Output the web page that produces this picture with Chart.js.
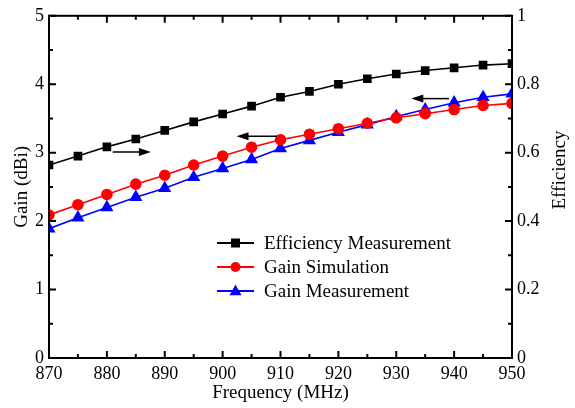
<!DOCTYPE html>
<html>
<head>
<meta charset="utf-8">
<script src="https://cdn.jsdelivr.net/npm/chart.js@4.4.0/dist/chart.umd.min.js"></script>
<style>
  html, body { margin: 0; padding: 0; background: #fff; }
  #wrap { width: 575px; height: 408px; }
</style>
</head>
<body>
<div id="wrap"><canvas id="grafico"></canvas></div>
<script>
const freqs = [870, 875, 880, 885, 890, 895, 900, 905, 910, 915, 920, 925, 930, 935, 940, 945, 950];
const efficiencyMeas = [0.564, 0.59, 0.617, 0.64, 0.665, 0.69, 0.713, 0.736, 0.762, 0.779, 0.80, 0.816, 0.83, 0.84, 0.848, 0.856, 0.86];
const gainSim = [2.09, 2.24, 2.39, 2.54, 2.67, 2.82, 2.95, 3.08, 3.19, 3.27, 3.35, 3.43, 3.51, 3.57, 3.63, 3.69, 3.72];
const gainMeas = [1.89, 2.05, 2.20, 2.35, 2.48, 2.64, 2.77, 2.90, 3.06, 3.18, 3.30, 3.41, 3.53, 3.63, 3.73, 3.81, 3.86];

// arrows: from x1 to x2 at gain value y (head at x2)
const arrows = [
  { x1: 881, x2: 887.6, y: 3.01 },
  { x1: 909.4, x2: 902.4, y: 3.24 },
  { x1: 939.1, x2: 932.6, y: 3.79 }
];

const serif = '"Liberation Serif", "Times New Roman", serif';

function pts(ys) {
  return freqs.map((f, i) => ({ x: f, y: ys[i] }));
}

const ctx = document.getElementById('grafico').getContext('2d');

// ticks pointing inward, on all four sides, plus frame, arrows, legend and right title
const extras = {
  id: 'extras',
  afterDraw(chart) {
    const c = chart.ctx;
    const a = chart.chartArea;
    const sx = chart.scales.x, sy = chart.scales.y, sy1 = chart.scales.y1;
    c.save();
    c.strokeStyle = '#000';
    c.lineWidth = 2;
    c.strokeRect(a.left, a.top, a.right - a.left, a.bottom - a.top);

    c.lineWidth = 2;
    c.beginPath();
    for (let f = 870; f <= 950; f += 5) {
      const x = sx.getPixelForValue(f);
      const len = (f % 10 === 0) ? 7 : 4;
      c.moveTo(x, a.bottom); c.lineTo(x, a.bottom - len);
      c.moveTo(x, a.top); c.lineTo(x, a.top + len);
    }
    for (let g = 0; g <= 5.001; g += 0.5) {
      const y = sy.getPixelForValue(g);
      const len = (Math.abs(g - Math.round(g)) < 0.01) ? 7 : 4;
      c.moveTo(a.left, y); c.lineTo(a.left + len, y);
    }
    for (let e = 0; e <= 1.001; e += 0.1) {
      const y = sy1.getPixelForValue(e);
      const major = Math.round(e * 10) % 2 === 0;
      c.moveTo(a.right, y); c.lineTo(a.right - (major ? 7 : 4), y);
    }
    c.stroke();

    // arrows
    c.fillStyle = '#000';
    c.lineWidth = 1.5;
    arrows.forEach(ar => {
      const x1 = sx.getPixelForValue(ar.x1), x2 = sx.getPixelForValue(ar.x2);
      const y = sy.getPixelForValue(ar.y);
      const dir = Math.sign(x2 - x1);
      c.beginPath();
      c.moveTo(x1, y); c.lineTo(x2 - dir * 10, y);
      c.stroke();
      c.beginPath();
      c.moveTo(x2, y);
      c.lineTo(x2 - dir * 12, y - 4);
      c.lineTo(x2 - dir * 12, y + 4);
      c.closePath();
      c.fill();
    });

    // legend
    const lx = 217, lx2 = 254, tx = 264;
    const rows = [243, 267, 291];
    chart.data.datasets.forEach((ds, i) => {
      const y = rows[i];
      c.strokeStyle = ds.borderColor;
      c.lineWidth = 1.8;
      c.beginPath(); c.moveTo(lx, y); c.lineTo(lx2, y); c.stroke();
      drawMarker(c, ds.pointStyle, (lx + lx2) / 2, y, ds.pointRadius, ds.borderColor);
      c.fillStyle = '#000';
      c.font = '19px ' + serif;
      c.textBaseline = 'middle';
      c.textAlign = 'left';
      c.fillText(ds.label, tx, y + 1);
    });

    // right axis title, reading bottom to top
    c.translate(560, 170);
    c.rotate(-Math.PI / 2);
    c.fillStyle = '#000';
    c.font = '19px ' + serif;
    c.textAlign = 'center';
    c.textBaseline = 'middle';
    c.fillText('Efficiency', 0, 0);
    c.restore();
  }
};

function drawMarker(c, style, x, y, r, color) {
  c.fillStyle = color;
  c.beginPath();
  if (style === 'rect') {
    c.rect(x - r * 0.9, y - r * 0.9, r * 1.8, r * 1.8);
  } else if (style === 'triangle') {
    c.moveTo(x, y - r * 1.1);
    c.lineTo(x + r, y + r * 0.7);
    c.lineTo(x - r, y + r * 0.7);
    c.closePath();
  } else {
    c.arc(x, y, r, 0, Math.PI * 2);
  }
  c.fill();
}

const config = {
  type: 'line',
  data: {
    datasets: [
      {
        label: 'Efficiency Measurement',
        data: pts(efficiencyMeas),
        yAxisID: 'y1',
        borderColor: '#000000',
        backgroundColor: '#000000',
        borderWidth: 1.6,
        pointStyle: 'rect',
        pointRadius: 5,
        pointHoverRadius: 5
      },
      {
        label: 'Gain Simulation',
        data: pts(gainSim),
        yAxisID: 'y',
        borderColor: '#ff0000',
        backgroundColor: '#ff0000',
        borderWidth: 1.6,
        pointStyle: 'circle',
        pointRadius: 5,
        pointHoverRadius: 5
      },
      {
        label: 'Gain Measurement',
        data: pts(gainMeas),
        yAxisID: 'y',
        borderColor: '#0000ff',
        backgroundColor: '#0000ff',
        borderWidth: 1.6,
        pointStyle: 'triangle',
        pointRadius: 6,
        pointHoverRadius: 6
      }
    ]
  },
  options: {
    responsive: true,
    maintainAspectRatio: false,
    animation: false,
    layout: { padding: { top: 14, left: 0, right: 0, bottom: 0 } },
    plugins: {
      legend: { display: false },
      tooltip: { enabled: false }
    },
    scales: {
      x: {
        type: 'linear',
        min: 870,
        max: 950,
        afterFit: s => { s.height = 50; },
        grid: { display: false, drawTicks: false },
        border: { display: false },
        ticks: { stepSize: 10, color: '#000', padding: 5, font: { family: serif, size: 18 } },
        title: { display: true, text: 'Frequency (MHz)', color: '#000', padding: { top: 0, bottom: 4 }, font: { family: serif, size: 19 } }
      },
      y: {
        position: 'left',
        min: 0,
        max: 5,
        afterFit: s => { s.width = 49; },
        grid: { display: false, drawTicks: false },
        border: { display: false },
        ticks: { stepSize: 1, color: '#000', padding: 5, font: { family: serif, size: 18 } },
        title: { display: true, text: 'Gain (dBi)', color: '#000', padding: { top: 11, bottom: 0 }, font: { family: serif, size: 19 } }
      },
      y1: {
        position: 'right',
        min: 0,
        max: 1,
        afterFit: s => { s.width = 63; },
        grid: { display: false, drawTicks: false },
        border: { display: false },
        ticks: {
          stepSize: 0.2,
          color: '#000',
          padding: 5,
          font: { family: serif, size: 18 },
          callback: v => String(+v.toFixed(1))
        }
      }
    }
  },
  plugins: [extras]
};

const grafico = new Chart(ctx, config);
</script>
</body>
</html>
